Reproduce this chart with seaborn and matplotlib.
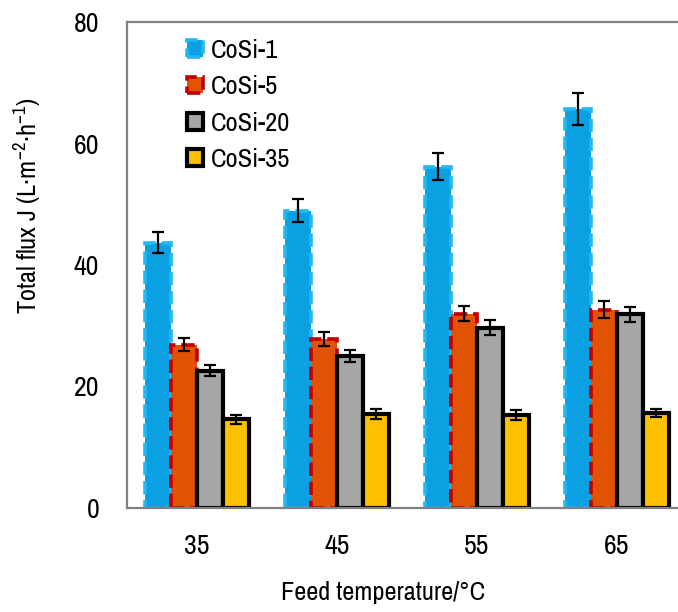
import pandas as pd
import numpy as np
import seaborn as sns
import matplotlib.pyplot as plt
from matplotlib.patches import Patch

# values
temps = ["35", "45", "55", "65"]
series = ["CoSi-1", "CoSi-5", "CoSi-20", "CoSi-35"]
cosi1 = [43.7, 48.9, 56.2, 65.7]
cosi5 = [26.9, 27.8, 32.0, 32.6]
cosi20 = [22.6, 25.0, 29.7, 31.9]
cosi35 = [14.6, 15.5, 15.3, 15.6]
err1 = [1.7, 1.9, 2.2, 2.6]
err5 = [1.1, 1.2, 1.3, 1.4]
err20 = [0.9, 1.0, 1.2, 1.25]
err35 = [0.75, 0.8, 0.75, 0.7]

face = ["#0aa0e2", "#e25204", "#a6a6a6", "#ffc000"]
edge = ["#22b8f2", "#c00000", "black", "black"]
style = ["--", "--", "-", "-"]

df = pd.DataFrame({
    "Temp": temps * 4,
    "Series": np.repeat(series, 4),
    "Flux": cosi1 + cosi5 + cosi20 + cosi35,
})
errs = [err1, err5, err20, err35]

sns.set_style("white")
plt.rcParams["font.family"] = ["Archivo Narrow", "Liberation Sans", "DejaVu Sans"]
plt.rcParams["mathtext.fontset"] = "custom"
plt.rcParams["mathtext.rm"] = "Archivo Narrow"
plt.rcParams["text.color"] = "black"
plt.rcParams["axes.labelcolor"] = "black"

fig = plt.figure(figsize=(6.78, 6.12), dpi=100)
ax = fig.add_axes([127 / 678, 104 / 612, 560 / 678, 486 / 612])

sns.barplot(data=df, x="Temp", y="Flux", hue="Series", order=temps,
            hue_order=series, palette=face, width=0.74, errorbar=None,
            legend=False, ax=ax)

# edge styles per series + error bars from precomputed values
bars = list(ax.containers)
for i, cont in enumerate(bars):
    xs = []
    for p in cont.patches:
        p.set_edgecolor(edge[i])
        p.set_linestyle(style[i])
        p.set_linewidth(2.6 if i < 2 else 3.0)
        p.set_facecolor(face[i])
        xs.append(p.get_x() + p.get_width() / 2)
    tops = [p.get_height() for p in cont.patches]
    ax.errorbar(xs, tops, yerr=errs[i], fmt="none", ecolor="black",
                elinewidth=1.6, capsize=4.5, capthick=1.6, zorder=5)

ax.set_ylim(0, 80)
ax.set_xlim(-0.5, 3.5)
ax.set_yticks([0, 20, 40, 60, 80])
ax.tick_params(axis="y", direction="in", length=10, width=1.2, color="#808080",
               labelsize=20, pad=20, labelcolor="black")
ax.tick_params(axis="x", length=0, labelsize=20, pad=19, labelcolor="black")
ax.set_xticks([0.5, 1.5, 2.5], minor=True)
ax.tick_params(axis="x", which="minor", direction="in", length=9, width=1.2,
               color="#808080")

for s in ["left", "top", "bottom", "right"]:
    ax.spines[s].set_color("#808080")
    ax.spines[s].set_linewidth(1.6)

ax.set_xlabel("Feed temperature/°C", fontsize=19)
ax.set_ylabel("Total flux J (L·m$^{\\mathregular{-2}}$·h$^{\\mathregular{-1}}$)", fontsize=19)
ax.xaxis.set_label_coords(0.457, -0.15)
ax.yaxis.set_label_coords(-0.15, 0.623)

handles = [Patch(facecolor=face[i], edgecolor=edge[i], linestyle=style[i],
                 linewidth=2.6 if i < 2 else 3.0) for i in range(4)]
ax.legend(handles, series, loc="upper left", bbox_to_anchor=(0.077, 1.0),
          frameon=False, fontsize=19, handlelength=0.6, handleheight=0.6,
          handletextpad=0.3, labelspacing=0.5, borderaxespad=0.25)

plt.savefig("out.png", dpi=100)
